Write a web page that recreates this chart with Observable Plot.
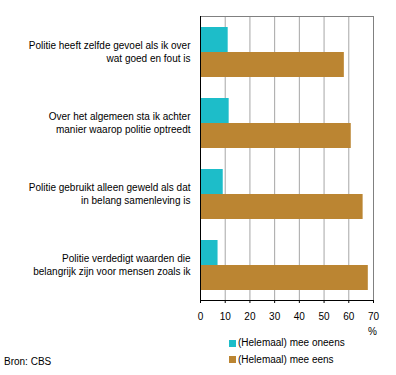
<!DOCTYPE html>
<html>
<head>
<meta charset="utf-8">
<script src="https://cdn.jsdelivr.net/npm/d3@7"></script>
<script src="https://cdn.jsdelivr.net/npm/@observablehq/plot@0.6"></script>
<style>
  html, body { margin: 0; padding: 0; background: #fff; }
  #wrap { position: relative; width: 396px; height: 375px; font-family: "Liberation Sans", Arial, sans-serif; font-size: 10px; color: #000; }
  #wrap svg { display: block; }
  .abs { position: absolute; line-height: 12px; white-space: nowrap; }
  .sw { position: absolute; width: 7px; height: 7px; }
</style>
</head>
<body>
<div id="wrap"></div>
<script>
const categories = [
  "Politie heeft zelfde gevoel als ik over\nwat goed en fout is",
  "Over het algemeen sta ik achter\nmanier waarop politie optreedt",
  "Politie gebruikt alleen geweld als dat\nin belang samenleving is",
  "Politie verdedigt waarden die\nbelangrijk zijn voor mensen zoals ik"
];
const seriesNames = ["(Helemaal) mee oneens", "(Helemaal) mee eens"];
const oneens = [11.2, 11.6, 9.2, 7.1];
const eens = [58.2, 61, 65.8, 67.9];
const xTicks = [0, 10, 20, 30, 40, 50, 60, 70];
const gridTicks = [10, 20, 30, 40, 50, 60];
const colors = ["#1dbdc9", "#bb8532"];
const unitLabel = "%";
const source = "Bron: CBS";

const data = [];
categories.forEach((c, i) => {
  data.push({cat: c, series: seriesNames[0], value: oneens[i]});
  data.push({cat: c, series: seriesNames[1], value: eens[i]});
});
const labelRows = categories.map(c => {
  const [l1, l2] = c.split("\n");
  return {cat: c, l1, l2};
});

const chart = Plot.plot({
  width: 396,
  height: 325,
  marginLeft: 200,
  marginRight: 23,
  marginTop: 15,
  marginBottom: 25,
  style: {fontFamily: "'Liberation Sans', Arial, sans-serif", fontSize: "10px", color: "#000", background: "#fff"},
  x: {domain: [0, 70]},
  fy: {domain: categories, padding: 0, axis: null},
  y: {domain: seriesNames, paddingInner: 0, paddingOuter: 0.4, axis: null},
  color: {domain: seriesNames, range: colors},
  marks: [
    Plot.ruleX(gridTicks, {stroke: "#a6a6a6", strokeWidth: 1}),
    Plot.ruleX([70], {stroke: "#808080", strokeWidth: 1}),
    Plot.frame({anchor: "top", facetAnchor: "top", stroke: "#808080"}),
    Plot.barX(data, {x: "value", y: "series", fy: "cat", fill: "series"}),
    Plot.ruleX([0], {stroke: "#000", strokeWidth: 1}),
    Plot.frame({anchor: "bottom", facetAnchor: "bottom", stroke: "#000"}),
    Plot.axisX({ticks: xTicks, tickSize: 3, tickPadding: 9.5, stroke: "#000", fill: "#000", label: null, tickFormat: d => String(d)}),
    Plot.text(labelRows, {fy: "cat", text: "l1", frameAnchor: "left", textAnchor: "end", lineAnchor: "middle", dx: -10, dy: -6.5, fill: "#000"}),
    Plot.text(labelRows, {fy: "cat", text: "l2", frameAnchor: "left", textAnchor: "end", lineAnchor: "middle", dx: -10, dy: 6.5, fill: "#000"})
  ]
});
const wrap = document.getElementById("wrap");
wrap.appendChild(chart);

function addText(txt, left, top) {
  const d = document.createElement("div");
  d.className = "abs";
  d.textContent = txt;
  d.style.left = left + "px";
  d.style.top = top + "px";
  wrap.appendChild(d);
}
addText(unitLabel, 368, 326);
seriesNames.forEach((s, i) => {
  const sw = document.createElement("div");
  sw.className = "sw";
  sw.style.background = colors[i];
  sw.style.left = "229px";
  sw.style.top = (339.5 + i * 16.5) + "px";
  wrap.appendChild(sw);
  addText(s, 238, 337 + i * 16.5);
});
addText(source, 4, 356);
</script>
</body>
</html>
